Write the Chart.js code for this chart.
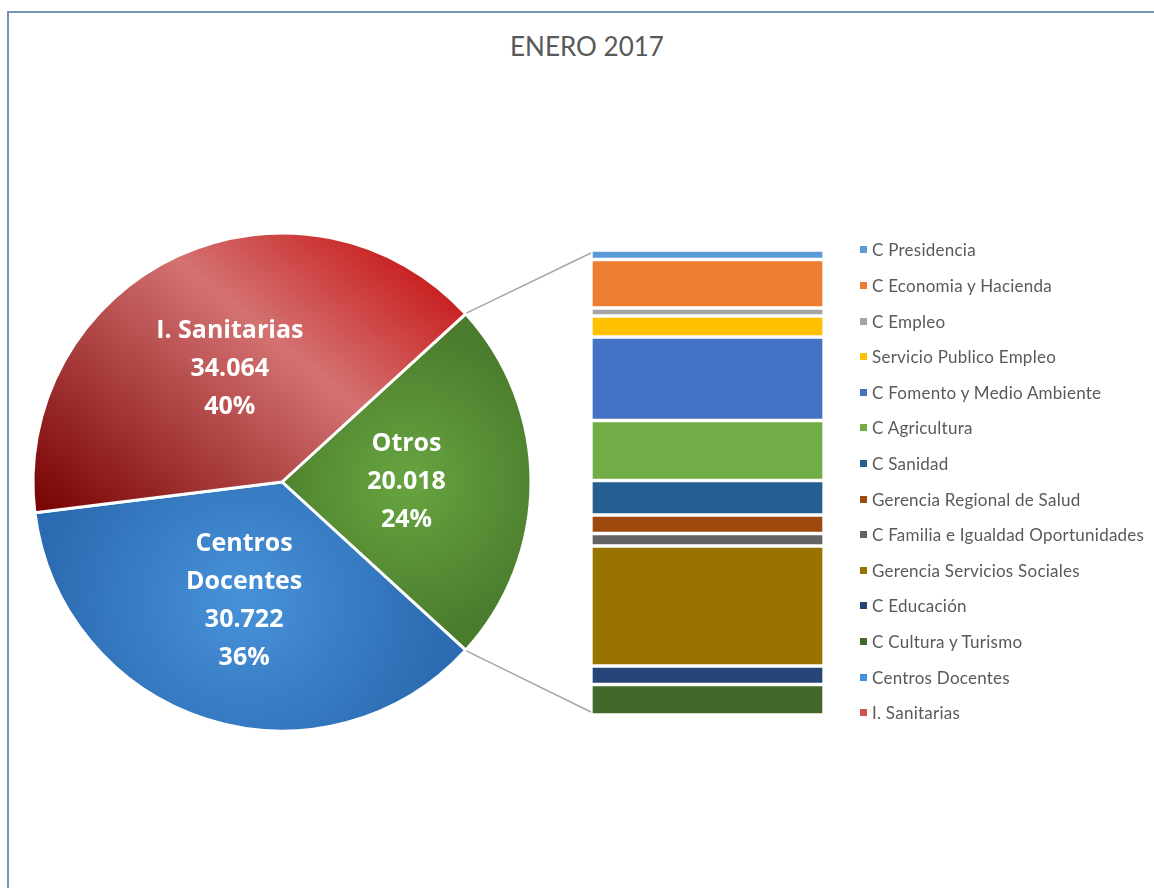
<!DOCTYPE html>
<html>
<head>
<meta charset="utf-8">
<script src="https://cdn.jsdelivr.net/npm/chart.js@4/dist/chart.umd.min.js"></script>
<style>
  body { margin: 0; background: #fff; }
  #wrap { position: relative; width: 1154px; height: 888px; overflow: hidden; font-family: Lato, sans-serif; }
  #frame { position: absolute; left: 7px; top: 11px; right: -10px; bottom: -10px;
           border-left: 2px solid #7393b7; border-top: 2px solid #7393b7; }
  #title { position: absolute; left: 0; width: 1174px; top: 30px; text-align: center;
           font-size: 26px; line-height: 32px; color: #595959; }
  canvas { position: absolute; left: 0; top: 0; }
  #legend { position: absolute; left: 860px; top: 232.2px; list-style: none; margin: 0; padding: 0; }
  #legend li { height: 35.6px; display: flex; align-items: center; font-size: 17px; letter-spacing: 0.25px;
               color: #595959; white-space: nowrap; }
  #legend .box { width: 7px; height: 7px; margin-right: 5px; flex: none; }
</style>
</head>
<body>
<div id="wrap">
  <div id="frame"></div>
  <div id="title">ENERO 2017</div>
  <canvas id="pie" width="1154" height="888"></canvas>
  <canvas id="bar" width="1154" height="888"></canvas>
  <ul id="legend"></ul>
</div>
<script>
var pieLabels = ["Otros", "Centros Docentes", "I. Sanitarias"];
var pieValues = [20018, 30722, 34064];
var pieMarkers = ["#70ad47", "#4290d8", "#d05252"];

var otrosLabels = [
  "C Presidencia",
  "C Economia y Hacienda",
  "C Empleo",
  "Servicio Publico Empleo",
  "C Fomento y Medio Ambiente",
  "C Agricultura",
  "C Sanidad",
  "Gerencia Regional de Salud",
  "C Familia e Igualdad Oportunidades",
  "Gerencia Servicios Sociales",
  "C Educación",
  "C Cultura y Turismo"
];
var otrosValues = [409, 2088, 344, 904, 3596, 2583, 1485, 796, 538, 5166, 796, 1313];
var otrosColors = ["#5b9bd5", "#ed7d31", "#a5a5a5", "#ffc000", "#4472c4", "#70ad47",
                   "#255e91", "#9e480e", "#636363", "#997300", "#264478", "#43682b"];

var pieTotal = pieValues.reduce(function (a, b) { return a + b; }, 0);
var otrosTotal = otrosValues.reduce(function (a, b) { return a + b; }, 0);
var pieRotation = 90 - pieValues[0] / pieTotal * 180;

function fmt(v) {
  return String(v).replace(/\B(?=(\d{3})+(?!\d))/g, ".");
}

// gradient fill per slice, like the office style
function pieFill(c) {
  var chart = c.chart;
  var area = chart.chartArea;
  if (!area) return pieMarkers[c.dataIndex];
  var ctx = chart.ctx;
  var cx = (area.left + area.right) / 2;
  var cy = (area.top + area.bottom) / 2;
  var r = Math.min(area.width, area.height) / 2;
  var g;
  if (c.dataIndex === 2) {
    g = ctx.createLinearGradient(cx - 0.82 * r, cy + 0.27 * r, cx + 0.27 * r, cy - 1.06 * r);
    g.addColorStop(0, "#760000");
    g.addColorStop(0.67, "#d47272");
    g.addColorStop(1, "#c92222");
    return g;
  }
  var start = (pieRotation - 90) * Math.PI / 180;
  for (var i = 0; i < c.dataIndex; i++) start += pieValues[i] / pieTotal * Math.PI * 2;
  var mid = start + pieValues[c.dataIndex] / pieTotal * Math.PI;
  var mx = cx + Math.cos(mid) * r * 0.5;
  var my = cy + Math.sin(mid) * r * 0.5;
  if (c.dataIndex === 0) {
    g = ctx.createRadialGradient(mx, my, 0, mx, my, r * 0.62);
    g.addColorStop(0, "#68a540");
    g.addColorStop(1, "#4a7c2d");
  } else {
    g = ctx.createRadialGradient(mx, my, 0, mx, my, r * 0.8);
    g.addColorStop(0, "#4892da");
    g.addColorStop(1, "#2b6bb1");
  }
  return g;
}

var sliceLabels = {
  id: "sliceLabels",
  afterDatasetsDraw: function (chart) {
    var ctx = chart.ctx;
    var meta = chart.getDatasetMeta(0);
    ctx.save();
    ctx.fillStyle = "#ffffff";
    ctx.font = "bold 25px 'Open Sans'";
    ctx.textAlign = "center";
    ctx.textBaseline = "middle";
    meta.data.forEach(function (arc, i) {
      var p = arc.getCenterPoint();
      var name = pieLabels[i];
      var lines = ctx.measureText(name).width > 180 ? name.split(" ") : [name];
      lines.push(fmt(pieValues[i]));
      lines.push(Math.round(pieValues[i] / pieTotal * 100) + "%");
      var y0 = p.y - (lines.length - 1) * 38 / 2;
      lines.forEach(function (t, k) {
        ctx.fillText(t, p.x, y0 + k * 38);
      });
    });
    ctx.restore();
  }
};

var pieChart = new Chart(document.getElementById("pie"), {
  type: "pie",
  data: {
    labels: pieLabels,
    datasets: [{
      data: pieValues,
      backgroundColor: pieFill,
      borderColor: "#ffffff",
      borderWidth: 3
    }]
  },
  options: {
    responsive: false,
    animation: false,
    devicePixelRatio: 1,
    rotation: pieRotation,
    layout: { padding: { left: 31.5, right: 621.5, top: 231.5, bottom: 155.5 } },
    plugins: { legend: { display: false }, tooltip: { enabled: false } }
  },
  plugins: [sliceLabels]
});

// lines from the "Otros" slice to the stacked bar
var connectors = {
  id: "connectors",
  beforeDatasetsDraw: function (chart) {
    var arc = pieChart.getDatasetMeta(0).data[0];
    var bar = chart.getDatasetMeta(0).data[0];
    var left = bar.x - bar.width / 2 + 2;
    var top = chart.scales.y.getPixelForValue(0) + 2;
    var bottom = chart.scales.y.getPixelForValue(otrosTotal) - 2;
    var R = arc.outerRadius + 1;
    var ctx = chart.ctx;
    ctx.save();
    ctx.strokeStyle = "#a6a6a6";
    ctx.lineWidth = 1.5;
    ctx.beginPath();
    ctx.moveTo(arc.x + R * Math.cos(arc.startAngle), arc.y + R * Math.sin(arc.startAngle));
    ctx.lineTo(left, top);
    ctx.moveTo(arc.x + R * Math.cos(arc.endAngle), arc.y + R * Math.sin(arc.endAngle));
    ctx.lineTo(left, bottom);
    ctx.stroke();
    ctx.restore();
  }
};

var barChart = new Chart(document.getElementById("bar"), {
  type: "bar",
  data: {
    labels: ["Otros"],
    datasets: otrosLabels.map(function (l, i) {
      return {
        label: l,
        data: [otrosValues[i]],
        backgroundColor: otrosColors[i],
        borderColor: "#ffffff",
        borderWidth: 2,
        borderSkipped: false,
        barPercentage: 1,
        categoryPercentage: 1
      };
    })
  },
  options: {
    responsive: false,
    animation: false,
    devicePixelRatio: 1,
    layout: { padding: { left: 591, right: 330, top: 250, bottom: 173 } },
    scales: {
      x: { stacked: true, display: false },
      y: { stacked: true, display: false, reverse: true, min: 0, max: otrosTotal }
    },
    plugins: { legend: { display: false }, tooltip: { enabled: false } }
  },
  plugins: [connectors]
});

// legend: bar segments, then the two other slices of the pie
var legendEl = document.getElementById("legend");
function addItem(text, color) {
  var li = document.createElement("li");
  var box = document.createElement("span");
  box.className = "box";
  box.style.background = color;
  li.appendChild(box);
  li.appendChild(document.createTextNode(text));
  legendEl.appendChild(li);
}
Chart.defaults.plugins.legend.labels.generateLabels(barChart).forEach(function (item) {
  addItem(item.text, item.fillStyle);
});
for (var i = 1; i < pieLabels.length; i++) addItem(pieLabels[i], pieMarkers[i]);
</script>
</body>
</html>
